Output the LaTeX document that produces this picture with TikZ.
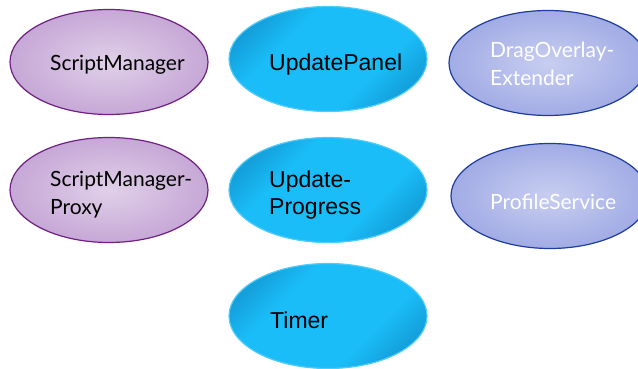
\documentclass[tikz,border=0pt]{standalone}
\usepackage{fontspec}
\setsansfont{Lato}
\newfontfamily\arialfont{Liberation Sans}
\usetikzlibrary{shapes.geometric}

\definecolor{lilacIn}{RGB}{224,208,233}
\definecolor{lilacOut}{RGB}{198,168,214}
\definecolor{lilacLine}{RGB}{112,32,130}
\definecolor{skyBright}{RGB}{26,189,248}
\definecolor{skyDark}{RGB}{14,132,192}
\definecolor{skyLine}{RGB}{80,204,250}
\definecolor{periIn}{RGB}{200,206,240}
\definecolor{periOut}{RGB}{162,172,229}
\definecolor{periLine}{RGB}{30,60,156}

\pgfdeclareverticalshading{skysheen}{100bp}{color(0bp)=(skyDark); color(14bp)=(skyDark); color(36bp)=(skyBright); color(64bp)=(skyBright); color(86bp)=(skyDark); color(100bp)=(skyDark)}

\begin{document}
\begin{tikzpicture}[x=1pt,y=-1pt,
	oval/.style={ellipse, minimum width=198pt, minimum height=105pt, inner sep=0pt, line width=1.2pt},
	lilac/.style={oval, draw=lilacLine, inner color=lilacIn, outer color=lilacOut},
	sheen/.style={oval, draw=skyLine, shading=skysheen, shading angle=45},
	peri/.style={oval, draw=periLine, inner color=periIn, outer color=periOut},
	gill/.style={font=\sffamily\fontsize{21}{28}\selectfont, anchor=base west, align=left, inner sep=0pt},
	arial/.style={font=\arialfont\fontsize{23}{27}\selectfont, anchor=base west, align=left, inner sep=0pt}]
	\useasboundingbox (0,0) rectangle (638,369);
	\clip (0,0) rectangle (638,369);

	% left column
	\node[lilac] (sm) at (109,62) {};
	\node[lilac] (smp) at (109,190) {};
	\node[gill] (smText) at (50,71) {ScriptManager};
	\node[gill] (smpText) at (50,214) {ScriptManager-\\Proxy};

	% middle column
	\node[sheen] (up) at (328,59) {};
	\node[sheen] (upp) at (328,190) {};
	\node[sheen] (tmr) at (328,316) {};
	\node[arial] (upText) at (269,71) {UpdatePanel};
	\node[arial] (uppText) at (269,214) {Update-\\Progress};
	\node[arial] (tmrText) at (270,328) {Timer};

	% right column
	\node[peri] (drag) at (548,63) {};
	\node[peri] (prof) at (550,196) {};
	\node[gill, white] (dragText) at (490,85) {DragOverlay-\\Extender};
	\node[gill, white] (profText) at (490,209) {ProfileService};
\end{tikzpicture}
\end{document}
